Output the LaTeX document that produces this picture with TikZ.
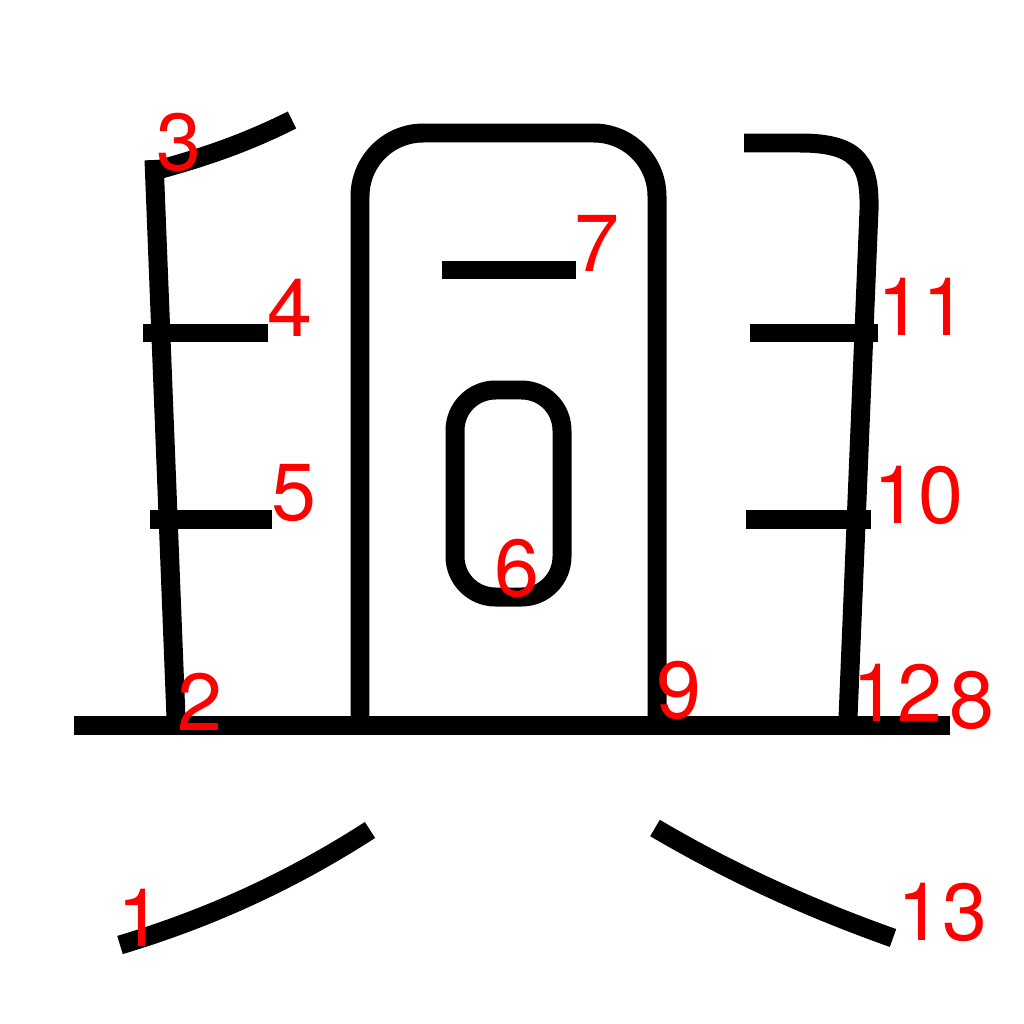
\documentclass[tikz,border=0pt]{standalone}
\usepackage{fontspec}
\setmainfont{TeX Gyre Heros}
\begin{document}
\begin{tikzpicture}[x=0.01cm,y=-0.01cm,line join=round]
	\tikzset{hua/.style={line width=5.4pt,line cap=butt},
	num/.style={text=red,font=\fontsize{23}{23}\selectfont,inner sep=0pt}}
	\useasboundingbox(0,0)rectangle(1024,1024);
	% strokes
	\draw[hua](120,945)..controls(220,915) and (300,875)..(370,830);
	\draw[hua](74,725)--(950,725);
	\draw[hua](292,120)..controls(240,146) and (195,160)..(150,172);
	\draw[hua](154,160)--(176,718);
	\draw[hua](143,333)--(268,333);
	\draw[hua](150,519)--(272,519);
	\draw[hua,rounded corners=18pt](360,718)--(360,133)--(657,133)--(657,718);
	\draw[hua](442,270)--(576,270);
	\draw[hua,rounded corners=11.5pt](455,390)rectangle(562,597);
	\draw[hua](744,143)--(800,143)..controls(860,143) and (870,165)..(869,210)--(848,718);
	\draw[hua](750,333)--(878,333);
	\draw[hua](746,519)--(871,519);
	\draw[hua](655,828)..controls(740,878) and (820,912)..(893,938);
	% numbers
	\node[num](n1)at(140,918){1};
	\node[num](n2)at(200,702){2};
	\node[num](n3)at(179,142){3};
	\node[num](n4)at(290,308){4};
	\node[num](n5)at(294,493){5};
	\node[num](n6)at(517,568){6};
	\node[num](n7)at(597,243){7};
	\node[num](n8)at(972,700){8};
	\node[num](n9)at(679,690){9};
	\node[num](n10)at(918,495){10};
	\node[num](n11)at(922,307){11};
	\node[num](n12)at(897,693){12};
	\node[num](n13)at(942,912){13};
\end{tikzpicture}
\end{document}
